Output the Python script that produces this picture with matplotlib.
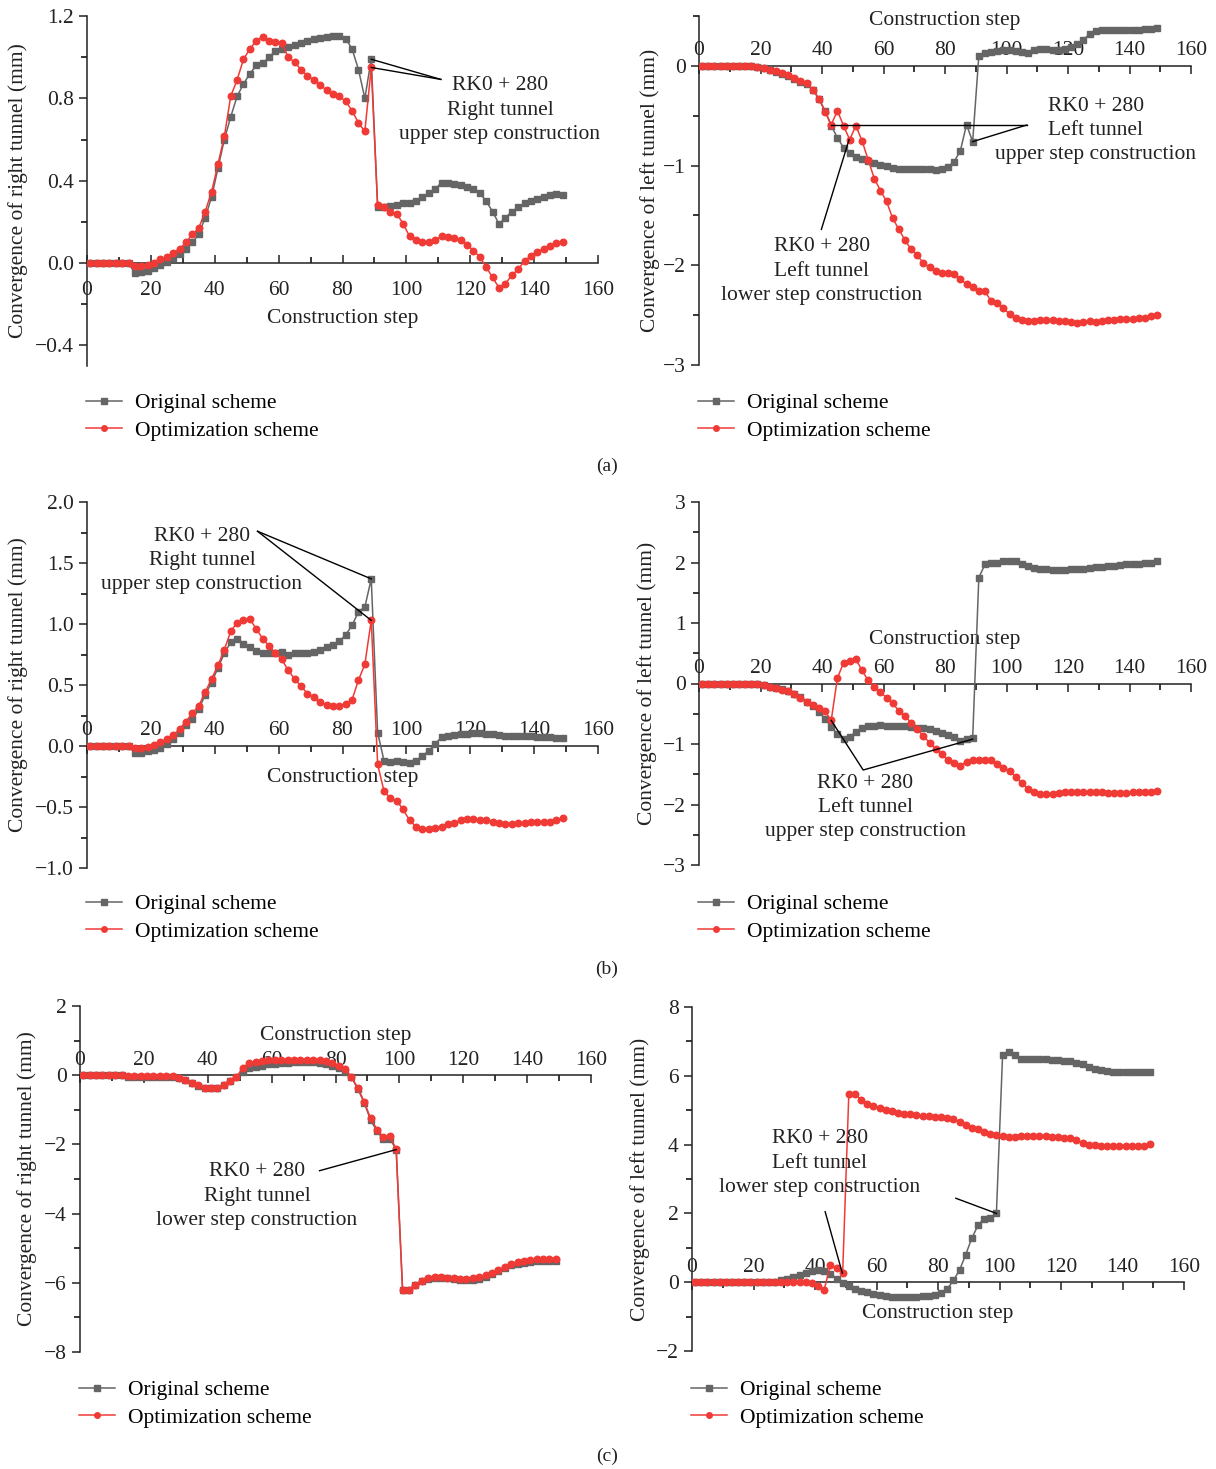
import numpy as np
import matplotlib
matplotlib.use("Agg")
import matplotlib.pyplot as plt
from matplotlib.ticker import MultipleLocator, FuncFormatter

plt.rcParams['font.family'] = ['Liberation Serif', 'DejaVu Serif']
plt.rcParams['font.size'] = 15.5
plt.rcParams['axes.unicode_minus'] = True

# construction steps (every second step)
steps = np.arange(1, 150, 2)

# ---- (a) ----
a_right_orig = [0, 0, 0, 0, 0, 0, 0,
                -0.05, -0.045, -0.04, -0.025, -0.01, 0.005, 0.025, 0.045, 0.07, 0.10,
                0.14, 0.22, 0.32, 0.46, 0.60, 0.71, 0.81, 0.87, 0.92, 0.96,
                0.97, 1.00, 1.03, 1.04, 1.05, 1.06, 1.07, 1.08, 1.09, 1.095,
                1.10, 1.105, 1.105, 1.09, 1.04, 0.94, 0.80, 0.99, 0.27, 0.27,
                0.275, 0.28, 0.29, 0.29, 0.30, 0.32, 0.34, 0.36, 0.39, 0.39,
                0.385, 0.38, 0.37, 0.36, 0.34, 0.30, 0.25, 0.19, 0.22, 0.25,
                0.27, 0.29, 0.30, 0.31, 0.32, 0.33, 0.335, 0.33]
a_right_opt = [0, 0, 0, 0, 0, 0, 0,
               -0.015, -0.015, -0.01, 0.0, 0.02, 0.03, 0.05, 0.07, 0.10, 0.14,
               0.17, 0.25, 0.345, 0.48, 0.615, 0.81, 0.89, 0.99, 1.04, 1.08,
               1.10, 1.08, 1.073, 1.068, 1.00, 0.975, 0.94, 0.91, 0.89, 0.865,
               0.84, 0.82, 0.81, 0.786, 0.74, 0.68, 0.64, 0.95, 0.28, 0.27,
               0.25, 0.24, 0.19, 0.13, 0.11, 0.10, 0.10, 0.11, 0.13, 0.125,
               0.12, 0.11, 0.09, 0.06, 0.03, -0.02, -0.07, -0.12, -0.10, -0.06,
               -0.03, 0.01, 0.035, 0.055, 0.07, 0.085, 0.095, 0.10]
a_left_orig = [0, 0, 0, 0, 0, 0, 0, 0, 0,
               -0.01, -0.02, -0.04, -0.06, -0.08, -0.10, -0.13, -0.16, -0.18, -0.24,
               -0.33, -0.45, -0.60, -0.72, -0.82, -0.87, -0.91, -0.93, -0.95, -0.97,
               -0.99, -1.00, -1.02, -1.03, -1.03, -1.03, -1.03, -1.03, -1.03, -1.04,
               -1.03, -1.01, -0.96, -0.85, -0.59, -0.76, 0.10, 0.13, 0.14, 0.15,
               0.16, 0.16, 0.15, 0.14, 0.13, 0.16, 0.17, 0.17, 0.16, 0.16,
               0.17, 0.19, 0.22, 0.26, 0.32, 0.35, 0.36, 0.36, 0.36, 0.36,
               0.36, 0.36, 0.36, 0.37, 0.37, 0.38]
a_left_opt = [0, 0, 0, 0, 0, 0, 0, 0, 0,
              -0.01, -0.02, -0.04, -0.05, -0.07, -0.09, -0.12, -0.15, -0.17, -0.24,
              -0.33, -0.46, -0.59, -0.45, -0.60, -0.74, -0.60, -0.75, -0.94, -1.13,
              -1.25, -1.36, -1.53, -1.64, -1.75, -1.84, -1.90, -1.98, -2.02, -2.06,
              -2.08, -2.08, -2.09, -2.14, -2.19, -2.22, -2.26, -2.26, -2.36, -2.38,
              -2.43, -2.49, -2.53, -2.55, -2.56, -2.56, -2.55, -2.55, -2.55, -2.56,
              -2.56, -2.57, -2.58, -2.57, -2.56, -2.57, -2.56, -2.55, -2.55, -2.54,
              -2.54, -2.54, -2.53, -2.53, -2.51, -2.50]

# ---- (b) ----
b_right_orig = [0, 0, 0, 0, 0, 0, 0,
                -0.06, -0.055, -0.045, -0.035, -0.02, 0.015, 0.055, 0.11, 0.17, 0.22,
                0.30, 0.42, 0.52, 0.64, 0.76, 0.85, 0.88, 0.84, 0.81, 0.78,
                0.765, 0.76, 0.76, 0.77, 0.75, 0.76, 0.76, 0.765, 0.77, 0.79,
                0.81, 0.83, 0.86, 0.91, 0.99, 1.10, 1.14, 1.37, 0.11, -0.12,
                -0.13, -0.12, -0.13, -0.14, -0.12, -0.08, -0.04, 0.02, 0.07, 0.08,
                0.09, 0.10, 0.10, 0.11, 0.11, 0.10, 0.10, 0.09, 0.085, 0.08,
                0.08, 0.08, 0.08, 0.075, 0.075, 0.07, 0.065, 0.065]
b_right_opt = [0, 0, 0, 0, 0, 0, 0,
               -0.02, -0.02, -0.01, 0.01, 0.03, 0.06, 0.09, 0.14, 0.20, 0.27,
               0.33, 0.44, 0.55, 0.66, 0.79, 0.94, 1.01, 1.03, 1.04, 0.96,
               0.88, 0.82, 0.76, 0.71, 0.62, 0.55, 0.49, 0.43, 0.40, 0.36,
               0.34, 0.325, 0.325, 0.345, 0.38, 0.54, 0.67, 1.03, -0.15, -0.37,
               -0.43, -0.45, -0.52, -0.61, -0.66, -0.68, -0.68, -0.67, -0.66, -0.64,
               -0.63, -0.61, -0.60, -0.60, -0.61, -0.61, -0.62, -0.63, -0.64, -0.64,
               -0.635, -0.63, -0.62, -0.62, -0.62, -0.62, -0.61, -0.59]
b_left_orig = [0, 0, 0, 0, 0, 0, 0, 0, 0,
               -0.01, -0.03, -0.05, -0.07, -0.09, -0.13, -0.17, -0.23, -0.30, -0.38,
               -0.47, -0.58, -0.72, -0.83, -0.91, -0.88, -0.80, -0.74, -0.71, -0.70,
               -0.69, -0.70, -0.71, -0.70, -0.71, -0.72, -0.73, -0.74, -0.76, -0.78,
               -0.81, -0.85, -0.89, -0.95, -0.91, -0.90, 1.75, 1.97, 2.00, 2.00,
               2.02, 2.03, 2.02, 1.98, 1.94, 1.91, 1.90, 1.89, 1.88, 1.88,
               1.88, 1.885, 1.89, 1.90, 1.91, 1.92, 1.93, 1.94, 1.95, 1.96,
               1.97, 1.97, 1.98, 1.99, 2.00, 2.03]
b_left_opt = [0, 0, 0, 0, 0, 0, 0, 0, 0,
              -0.01, -0.03, -0.05, -0.07, -0.10, -0.13, -0.18, -0.24, -0.30, -0.35,
              -0.41, -0.46, -0.61, 0.09, 0.34, 0.37, 0.40, 0.22, 0.05, -0.05,
              -0.14, -0.24, -0.33, -0.45, -0.54, -0.65, -0.76, -0.87, -0.98, -1.08,
              -1.17, -1.27, -1.32, -1.36, -1.29, -1.27, -1.26, -1.26, -1.27, -1.33,
              -1.39, -1.45, -1.54, -1.65, -1.74, -1.80, -1.82, -1.82, -1.82, -1.81,
              -1.80, -1.79, -1.79, -1.79, -1.79, -1.80, -1.80, -1.81, -1.81, -1.81,
              -1.81, -1.80, -1.80, -1.79, -1.79, -1.77]

# ---- (c) ----
c_right_orig = [0, 0, 0, 0, 0, 0, 0,
                -0.05, -0.05, -0.05, -0.05, -0.05, -0.05, -0.05, -0.05, -0.08, -0.15,
                -0.22, -0.30, -0.36, -0.38, -0.36, -0.28, -0.16, -0.05, 0.10, 0.20,
                0.23, 0.28, 0.31, 0.33, 0.35, 0.36, 0.37, 0.37, 0.37, 0.37,
                0.35, 0.32, 0.26, 0.22, 0.10, -0.06, -0.40, -0.80, -1.30, -1.62,
                -1.85, -1.83, -2.15, -6.22, -6.20, -6.05, -5.95, -5.90, -5.85, -5.85,
                -5.87, -5.90, -5.92, -5.93, -5.92, -5.88, -5.82, -5.75, -5.67, -5.58,
                -5.50, -5.45, -5.42, -5.40, -5.38, -5.37, -5.37, -5.37]
c_right_opt = [0, 0, 0, 0, 0, 0, 0,
               -0.02, -0.02, -0.02, -0.02, -0.02, -0.02, -0.02, -0.02, -0.08, -0.14,
               -0.22, -0.29, -0.36, -0.38, -0.37, -0.29, -0.17, -0.05, 0.22, 0.35,
               0.37, 0.40, 0.43, 0.45, 0.45, 0.45, 0.45, 0.45, 0.44, 0.44,
               0.43, 0.40, 0.34, 0.28, 0.17, -0.05, -0.37, -0.77, -1.25, -1.57,
               -1.80, -1.77, -2.13, -6.20, -6.22, -6.05, -5.95, -5.87, -5.83, -5.83,
               -5.85, -5.87, -5.88, -5.88, -5.87, -5.84, -5.78, -5.72, -5.63, -5.55,
               -5.47, -5.41, -5.37, -5.35, -5.32, -5.31, -5.30, -5.30]
c_left_orig = [0, 0, 0, 0, 0, 0, 0, 0, 0, 0, 0, 0, 0,
               0.02, 0.05, 0.10, 0.16, 0.22, 0.28, 0.32, 0.35, 0.33, 0.25,
               0.10, -0.02, -0.12, -0.20, -0.25, -0.28, -0.33, -0.37, -0.40, -0.42,
               -0.43, -0.43, -0.43, -0.42, -0.41, -0.40, -0.36, -0.30, -0.20, 0.05,
               0.35, 0.80, 1.28, 1.65, 1.85, 1.87, 2.02, 6.60, 6.68, 6.60,
               6.50, 6.48, 6.48, 6.48, 6.48, 6.47, 6.46, 6.44, 6.42, 6.38,
               6.33, 6.27, 6.20, 6.16, 6.13, 6.11, 6.10, 6.10, 6.10, 6.10,
               6.10, 6.10]
c_left_opt = [0, 0, 0, 0, 0, 0, 0, 0, 0, 0, 0, 0, 0, 0, 0, 0, 0, 0, 0,
              -0.02, -0.10, -0.22, 0.50, 0.40, 0.28, 5.48, 5.48, 5.30, 5.18,
              5.12, 5.07, 5.02, 4.97, 4.93, 4.90, 4.88, 4.86, 4.84, 4.82,
              4.80, 4.79, 4.77, 4.74, 4.67, 4.58, 4.49, 4.44, 4.36, 4.31,
              4.28, 4.25, 4.23, 4.23, 4.24, 4.24, 4.25, 4.25, 4.24, 4.23,
              4.22, 4.20, 4.18, 4.12, 4.05, 3.99, 3.98, 3.97, 3.97, 3.97,
              3.96, 3.96, 3.96, 3.96, 3.97, 4.01]

GRAY = '#656565'
RED = '#f03a36'
W, H = 1216, 1469


def px_axes(x0, x1, ytop, ybot):
    # axes rectangle from pixel coordinates of the original figure
    return [x0 / W, 1 - ybot / H, (x1 - x0) / W, (ybot - ytop) / H]


def minus_fmt(fmt):
    return FuncFormatter(lambda v, p: (fmt % v).replace('-', '\u2212'))


def setup(ax, ylim, ymaj, ymin, yfmt, top_labels, xlabel_xy, ylabel_x, ylabel):
    ax.set_xlim(0, 160)
    ax.set_ylim(*ylim)
    ax.spines['right'].set_visible(False)
    if top_labels:
        ax.spines['bottom'].set_visible(False)
        ax.spines['top'].set_position(('data', 0))
        ax.xaxis.set_ticks_position('top')
        pad = 4
    else:
        ax.spines['top'].set_visible(False)
        ax.spines['bottom'].set_position(('data', 0))
        ax.xaxis.set_ticks_position('bottom')
        pad = 13
    for s in ax.spines.values():
        s.set_linewidth(1.1)
        s.set_color('#222222')
    ax.xaxis.set_major_locator(MultipleLocator(20))
    ax.xaxis.set_minor_locator(MultipleLocator(10))
    ax.yaxis.set_major_locator(MultipleLocator(ymaj))
    ax.yaxis.set_minor_locator(MultipleLocator(ymin))
    ax.yaxis.set_major_formatter(minus_fmt(yfmt))
    ax.tick_params(axis='x', which='major', direction='in', length=6, width=1.1, pad=pad)
    ax.tick_params(axis='x', which='minor', direction='in', length=4, width=1.1)
    ax.tick_params(axis='y', which='major', direction='out', length=6, width=1.1)
    ax.tick_params(axis='y', which='minor', direction='out', length=4, width=1.1)
    ax.tick_params(labelsize=15.5, colors='#222222')
    ax.text(xlabel_xy[0], xlabel_xy[1], 'Construction step', transform=ax.transAxes,
            ha='center', va='center', fontsize=15.5, color='#222222')
    ax.set_ylabel(ylabel, fontsize=15.5, color='#222222')
    ax.yaxis.set_label_coords(ylabel_x, 0.5)
    ax.patch.set_alpha(0)


def draw(ax, orig, opt, leg_xy):
    ax.plot(steps, orig, color=GRAY, lw=1.1, marker='s', ms=4.4, mec=GRAY, mfc=GRAY,
            label='Original scheme', zorder=3)
    ax.plot(steps, opt, color=RED, lw=1.1, marker='o', ms=4.7, mec=RED, mfc=RED,
            label='Optimization scheme', zorder=4)
    ax.legend(loc='upper left', bbox_to_anchor=(leg_xy[0] / W, 1 - leg_xy[1] / H),
              bbox_transform=fig.transFigure, frameon=False, fontsize=15.5,
              borderpad=0, borderaxespad=0, handlelength=1.65, handletextpad=0.62,
              labelspacing=0.36, markerscale=0.85)


def note(ax, x, y, txt):
    ax.text(x, y, txt, ha='center', va='center', fontsize=15.5, color='#222222',
            linespacing=1.38, zorder=5)


def seg(ax, xs, ys):
    ax.plot(xs, ys, color='black', lw=1.0, zorder=5)


fig = plt.figure(figsize=(W / 100, H / 100), dpi=100)

rk_right_up = 'RK0 + 280\nRight tunnel\nupper step construction'
rk_left_up = 'RK0 + 280\nLeft tunnel\nupper step construction'
rk_left_low = 'RK0 + 280\nLeft tunnel\nlower step construction'
rk_right_low = 'RK0 + 280\nRight tunnel\nlower step construction'
yl_r = 'Convergence of right tunnel (mm)'
yl_l = 'Convergence of left tunnel (mm)'

# (a) left
ax = fig.add_axes(px_axes(87, 598, 16, 366))
setup(ax, (-0.5, 1.2), 0.4, 0.2, '%.1f', False, (0.5, 0.137), -0.115, yl_r)
draw(ax, a_right_orig, a_right_opt, (86, 393))
note(ax, 129.3, 0.742, rk_right_up)
seg(ax, [110.8, 89], [0.892, 0.99])
seg(ax, [110.8, 89], [0.892, 0.95])

# (a) right
ax = fig.add_axes(px_axes(699, 1191, 16, 365))
setup(ax, (-3, 0.5), 1, 0.5, '%.0f', True, (0.5, 0.9885), -0.079, yl_l)
draw(ax, a_left_orig, a_left_opt, (698, 393))
note(ax, 129.1, -0.65, rk_left_up)
note(ax, 40.0, -2.06, rk_left_low)
seg(ax, [106.6, 43], [-0.593, -0.593])
seg(ax, [106.6, 89], [-0.593, -0.76])
seg(ax, [39.8, 48.8], [-1.64, -0.74])

# (b) left
ax = fig.add_axes(px_axes(87, 598, 502, 868))
setup(ax, (-1.0, 2.0), 0.5, 0.25, '%.1f', True, (0.5, 0.2486), -0.115, yl_r)
draw(ax, b_right_orig, b_right_opt, (86, 894))
note(ax, 36.0, 1.52, rk_right_up)
seg(ax, [53.4, 89], [1.76, 1.37])
seg(ax, [53.4, 89], [1.76, 1.03])

# (b) right
ax = fig.add_axes(px_axes(699, 1191, 502, 865))
setup(ax, (-3, 3), 1, 0.5, '%.0f', True, (0.5, 0.62), -0.085, yl_l)
draw(ax, b_left_orig, b_left_opt, (698, 894))
note(ax, 54.0, -2.05, rk_left_up)
seg(ax, [43, 53.4, 89], [-0.61, -1.43, -0.92])

# (c) left
ax = fig.add_axes(px_axes(80, 591, 1006, 1352))
setup(ax, (-8, 2), 2, 1, '%.0f', True, (0.5, 0.916), -0.084, yl_r)
draw(ax, c_right_orig, c_right_opt, (79, 1380))
note(ax, 55.4, -3.5, rk_right_low)
seg(ax, [75, 99], [-2.76, -2.15])

# (c) right
ax = fig.add_axes(px_axes(692, 1184, 1007, 1351))
setup(ax, (-2, 8), 2, 1, '%.0f', False, (0.5, 0.110), -0.085, yl_l)
ax.tick_params(axis='x', which='major', pad=4)
ax.xaxis.set_ticks_position('top')
ax.spines['top'].set_visible(True)
ax.spines['top'].set_position(('data', 0))
ax.spines['bottom'].set_visible(False)
draw(ax, c_left_orig, c_left_opt, (691, 1380))
note(ax, 41.6, 3.46, rk_left_low)
seg(ax, [43.3, 48.9], [2.05, 0.26])
seg(ax, [85.8, 99], [2.44, 2.0])

for lab, y in [('(a)', 466), ('(b)', 969), ('(c)', 1456)]:
    fig.text(607 / W, 1 - y / H, lab, ha='center', va='center', fontsize=14, color='#222222')

fig.savefig('out.png', dpi=100)
